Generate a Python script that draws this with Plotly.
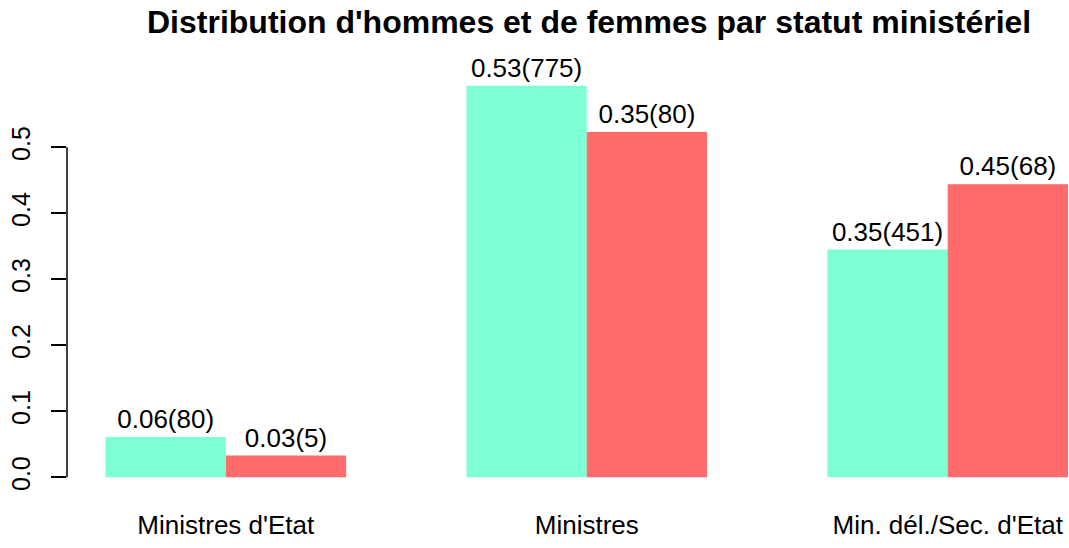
import plotly.graph_objects as go

categories = ["Ministres d'Etat", "Ministres", "Min. dél./Sec. d'Etat"]
hommes = [0.061, 0.593, 0.345]
femmes = [0.033, 0.523, 0.444]
labels_hommes = ["0.06(80)", "0.53(775)", "0.35(451)"]
labels_femmes = ["0.03(5)", "0.35(80)", "0.45(68)"]
yticks = [0.0, 0.1, 0.2, 0.3, 0.4, 0.5]

green = "#7FFFD4"
red = "#FF6A6A"
font_family = "Liberation Sans, Arial, sans-serif"

# bar positions as in R barplot(beside=TRUE): group g spans [3g+1, 3g+3]
xg = [3 * i + 1.5 for i in range(len(categories))]
xr = [3 * i + 2.5 for i in range(len(categories))]
centers = [3 * i + 2 for i in range(len(categories))]

fig = go.Figure()
fig.add_trace(go.Bar(x=xg, y=hommes, width=1, marker=dict(color=green, line=dict(width=0)),
                     text=labels_hommes, textposition="outside", cliponaxis=False,
                     textfont=dict(size=26, color="black", family=font_family),
                     name="Hommes", showlegend=False))
fig.add_trace(go.Bar(x=xr, y=femmes, width=1, marker=dict(color=red, line=dict(width=0)),
                     text=labels_femmes, textposition="outside", cliponaxis=False,
                     textfont=dict(size=26, color="black", family=font_family),
                     name="Femmes", showlegend=False))

fig.update_layout(
    width=1069, height=548,
    margin=dict(l=67, r=1, t=70, b=55, autoexpand=False),
    paper_bgcolor="white", plot_bgcolor="white",
    font=dict(family=font_family, color="black"),
    barmode="overlay",
    xaxis=dict(range=[0.68, 9.0], tickvals=centers, ticktext=categories,
               showgrid=False, zeroline=False, showline=False, ticks="",
               automargin=False,
               tickfont=dict(size=26, color="black"), ticklabelstandoff=14),
    yaxis=dict(range=[-0.0237, 0.617], tickvals=yticks,
               ticktext=[f"{v:.1f}" for v in yticks],
               showgrid=False, zeroline=False, showline=False, automargin=False,
               ticks="outside", ticklen=15, tickwidth=1.5, tickcolor="black",
               tickangle=-90, tickfont=dict(size=25, color="black"),
               ticklabelstandoff=11),
    shapes=[dict(type="line", xref="paper", yref="y", x0=0, x1=0, y0=0, y1=0.5,
                 line=dict(color="black", width=1.5))],
    annotations=[dict(text="<b>Distribution d'hommes et de femmes par statut ministériel</b>",
                      xref="paper", yref="paper", x=0.5217, y=1, yshift=48,
                      xanchor="center", yanchor="middle", showarrow=False,
                      font=dict(size=32, color="black", family=font_family))],
)
fig.update_traces(constraintext="none", hoverinfo="skip")

fig.write_html("out.html", config={"displayModeBar": False},
               post_script="document.body.style.margin='0';document.body.style.overflow='hidden';")
